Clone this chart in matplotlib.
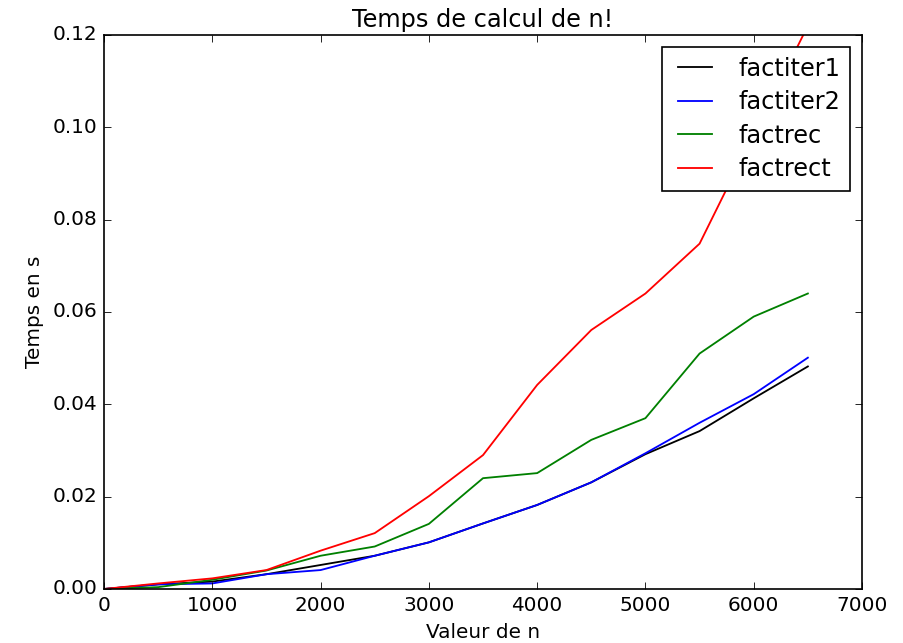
import matplotlib
matplotlib.use("Agg")
import matplotlib.pyplot as plt

n_values = [0, 500, 1000, 1500, 2000, 2500, 3000, 3500, 4000, 4500, 5000, 5500, 6000, 6500]
factiter1 = [0, 0.001, 0.0016, 0.0032, 0.0052, 0.0072, 0.0101, 0.0142, 0.0182, 0.0231, 0.0292, 0.0342, 0.0413, 0.0482]
factiter2 = [0, 0.001, 0.0012, 0.0032, 0.0041, 0.0072, 0.0101, 0.0142, 0.0182, 0.0231, 0.0294, 0.036, 0.0422, 0.0501]
factrec = [0, 0.0004, 0.002, 0.004, 0.0072, 0.0092, 0.0141, 0.024, 0.0251, 0.0323, 0.037, 0.051, 0.059, 0.064]
factrect = [0, 0.0012, 0.0023, 0.0041, 0.0083, 0.0121, 0.0201, 0.029, 0.0442, 0.0561, 0.064, 0.0748, 0.0985, 0.122]

plt.style.use("classic")
DPI = 120
fig = plt.figure(figsize=(903 / DPI, 643 / DPI), dpi=DPI, facecolor="white")
ax = fig.add_axes([0.1152, 0.084, 0.8394, 0.8616])
ax.plot(n_values, factiter1, color="k", label="factiter1", lw=1.1)
ax.plot(n_values, factiter2, color="b", label="factiter2", lw=1.1)
ax.plot(n_values, factrec, color="g", label="factrec", lw=1.1)
ax.plot(n_values, factrect, color="r", label="factrect", lw=1.1)
ax.set_xlim(0, 7000)
ax.set_ylim(0, 0.12)
ax.set_title("Temps de calcul de n!")
ax.set_xlabel("Valeur de n")
ax.set_ylabel("Temps en s")
ax.legend(loc="upper right", labelspacing=0.4)
fig.savefig("out.png", dpi=DPI, facecolor="white")
